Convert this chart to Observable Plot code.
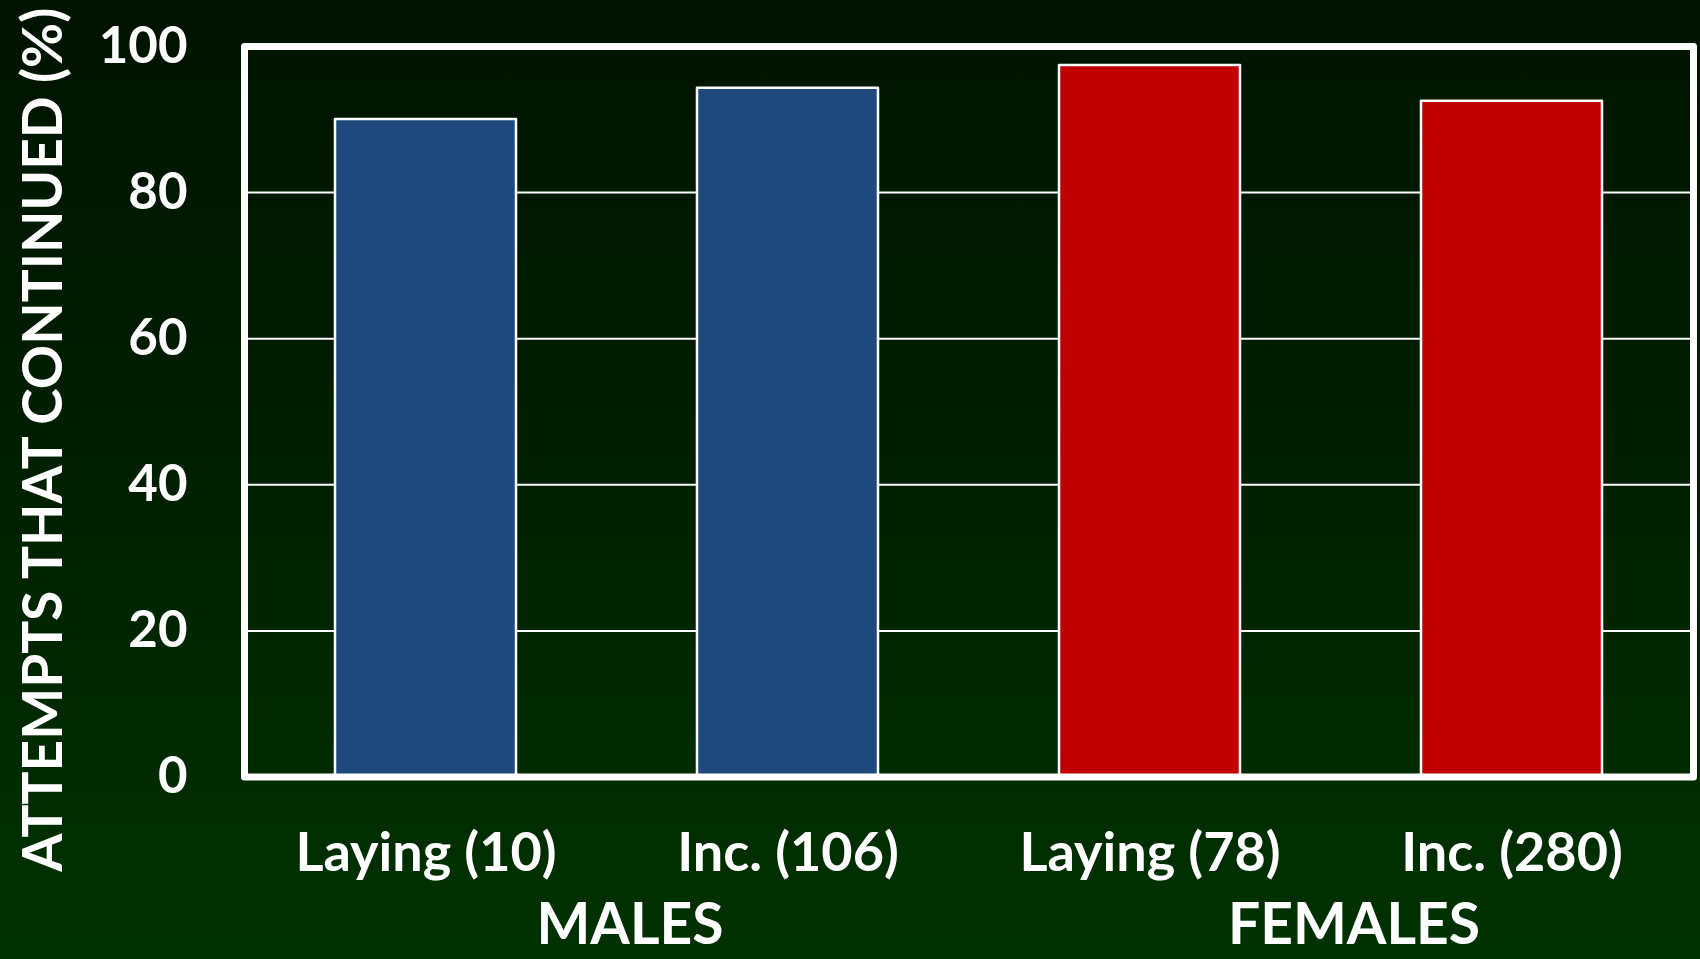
<!DOCTYPE html>
<html>
<head>
<meta charset="utf-8">
<script src="https://cdn.jsdelivr.net/npm/d3@7"></script>
<script src="https://cdn.jsdelivr.net/npm/@observablehq/plot@0.6"></script>
<style>
  html, body { margin: 0; padding: 0; background: #001a00; }
  #chart svg { display: block; }
</style>
</head>
<body>
<div id="chart"></div>
<script>
// ---- data ----
const categories = ["Laying (10)", "Inc. (106)", "Laying (78)", "Inc. (280)"];
const values = [90, 94.3, 97.4, 92.5];
const sexes = ["MALES", "MALES", "FEMALES", "FEMALES"];
const groupLabels = ["MALES", "FEMALES"];
const groupFirstCategory = ["Laying (10)", "Laying (78)"];
const groupColors = ["#1F497D", "#C00000"];
const yTicks = [0, 20, 40, 60, 80, 100];
const gridTicks = [20, 40, 60, 80];
const yTitle = "ATTEMPTS THAT CONTINUED (%)";

const data = categories.map((c, i) => ({cat: c, value: values[i], sex: sexes[i]}));
const groups = groupLabels.map((g, i) => ({label: g, cat: groupFirstCategory[i]}));

const chart = Plot.plot({
  width: 1700,
  height: 959,
  marginLeft: 244,
  marginRight: 7,
  marginTop: 46,
  marginBottom: 182.5,
  style: {
    background: "linear-gradient(to bottom, #001300 0%, #002000 50%, #003200 100%)",
    fontFamily: "Lato, 'Open Sans', sans-serif",
    fontWeight: "bold",
    color: "white",
    overflow: "visible"
  },
  x: {type: "band", domain: categories, paddingInner: 0.5, paddingOuter: 0.25, label: null},
  y: {domain: [0, 100], label: null},
  color: {domain: groupLabels, range: groupColors},
  marks: [
    Plot.ruleY(gridTicks, {stroke: "white", strokeWidth: 2}),
    Plot.barY(data, {x: "cat", y: "value", fill: "sex", stroke: "white", strokeWidth: 2.5, strokeLinejoin: "round"}),
    Plot.frame({stroke: "white", strokeWidth: 7, strokeLinejoin: "round"}),
    Plot.axisY(yTicks, {tickSize: 0, tickPadding: 57, fontSize: 51, fill: "white", label: null}),
    Plot.axisX({tickSize: 0, tickPadding: 56, fontSize: 54, fill: "white", label: null}),
    Plot.text(groups, {x: "cat", text: "label", frameAnchor: "bottom", dx: 204, dy: 167,
      lineAnchor: "bottom", fontSize: 57, fill: "white"}),
    Plot.text([yTitle], {frameAnchor: "left", rotate: -90, dx: -200, dy: 28,
      textAnchor: "middle", lineAnchor: "middle", fontSize: 55, fill: "white"})
  ]
});
document.getElementById("chart").appendChild(chart);
</script>
</body>
</html>
